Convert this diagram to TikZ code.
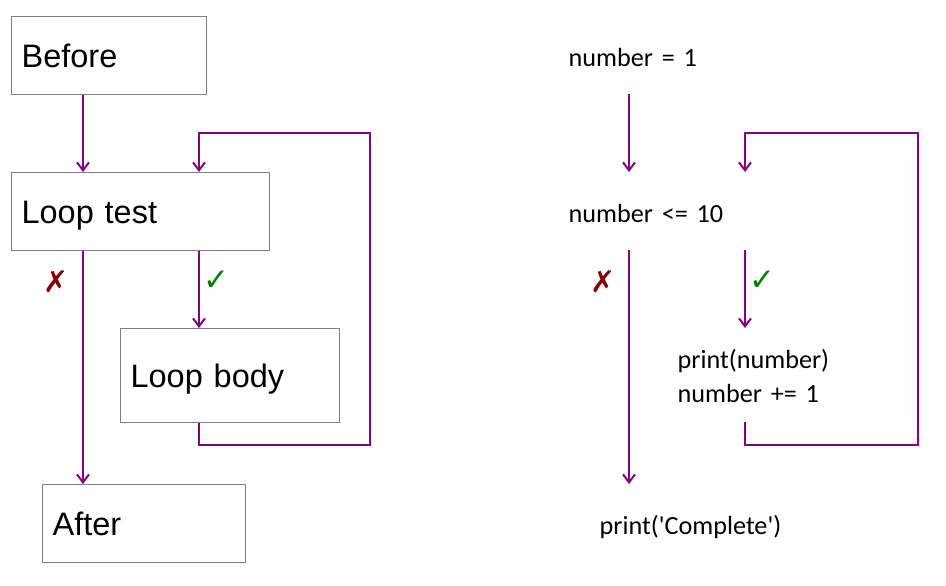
\documentclass[tikz,border=0pt]{standalone}
\usepackage{fontspec}
\setmainfont{Liberation Sans}
\newfontfamily\codefont{Carlito}
\newfontfamily\markfont{DejaVu Sans}
\usetikzlibrary{arrows.meta,positioning}
\definecolor{flowpurple}{RGB}{128,0,128}
\definecolor{boxgray}{RGB}{128,128,128}
\definecolor{nored}{RGB}{128,0,0}
\definecolor{yesgreen}{RGB}{0,128,0}
\tikzset
{
    stepbox/.style = {draw=boxgray, line width=1.2pt, anchor=north west, align=left, inner xsep=10pt, inner ysep=0pt, text height=23.4pt, text depth=0pt, font=\fontsize{32.5}{39}\selectfont},
    codebox/.style = {anchor=north west, align=left, inner xsep=11.5pt, inner ysep=0pt, text height=22pt, text depth=0pt, font=\codefont\fontsize{26.2}{34}\selectfont},
    flow/.style    = {draw=flowpurple, line width=2pt, ->},
    nomark/.style  = {text=nored, font=\markfont\fontsize{30}{30}\selectfont},
    yesmark/.style = {text=yesgreen, font=\markfont\fontsize{31}{31}\selectfont}
}

\begin{document}
\begin{tikzpicture}[x=1pt, y=-1pt, >={Straight Barb[length=8pt,width=12pt]}]
    \useasboundingbox (0,0) rectangle (946,586);

    % left: the flow in words
    \node [stepbox, text width=175pt, minimum height=78pt] (before) at (11,16) {Before};
    \node [stepbox, text width=238pt, minimum height=78pt] (test) at (11,172) {Loop test};
    \node [stepbox, text width=199pt, minimum height=94pt] (body) at (120,328) {Loop body};
    \node [stepbox, text width=183pt, minimum height=78pt] (after) at (42,484) {After};

    \coordinate (lmain) at (83,0);
    \coordinate (lloop) at (199,0);
    \coordinate (lret) at (370,445);
    \coordinate (ltop) at (370,133);

    \draw [flow] (before.south -| lmain) -- (test.north -| lmain);
    \draw [flow] (test.south -| lmain) -- (after.north -| lmain);
    \draw [flow] (test.south -| lloop) -- (body.north -| lloop);
    \draw [flow] (body.south -| lloop) |- (lret) -- (ltop) -| (test.north -| lloop);

    \node [nomark] (lno) at (56,282) {✗};
    \node [yesmark] (lyes) at (216,281) {✓};

    % right: the same flow in code
    \node [codebox, text width=172pt, minimum height=78pt] (init) at (557,16) {number = 1};
    \node [codebox, text width=235pt, minimum height=78pt] (cond) at (557,172) {number <= 10};
    \node [codebox, text width=196pt, minimum height=94pt, text depth=36pt] (code) at (666,328) {print(number)\\number += 1};
    \node [codebox, text width=180pt, minimum height=78pt] (done) at (588,484) {print(\textquotesingle Complete\textquotesingle)};

    \coordinate (rmain) at (629,0);
    \coordinate (rloop) at (745,0);
    \coordinate (rret) at (918,445);
    \coordinate (rtop) at (918,133);

    \draw [flow] (init.south -| rmain) -- (cond.north -| rmain);
    \draw [flow] (cond.south -| rmain) -- (done.north -| rmain);
    \draw [flow] (cond.south -| rloop) -- (code.north -| rloop);
    \draw [flow] (code.south -| rloop) |- (rret) -- (rtop) -| (cond.north -| rloop);

    \node [nomark] (rno) at (603,282) {✗};
    \node [yesmark] (ryes) at (762,281) {✓};
\end{tikzpicture}
\end{document}
